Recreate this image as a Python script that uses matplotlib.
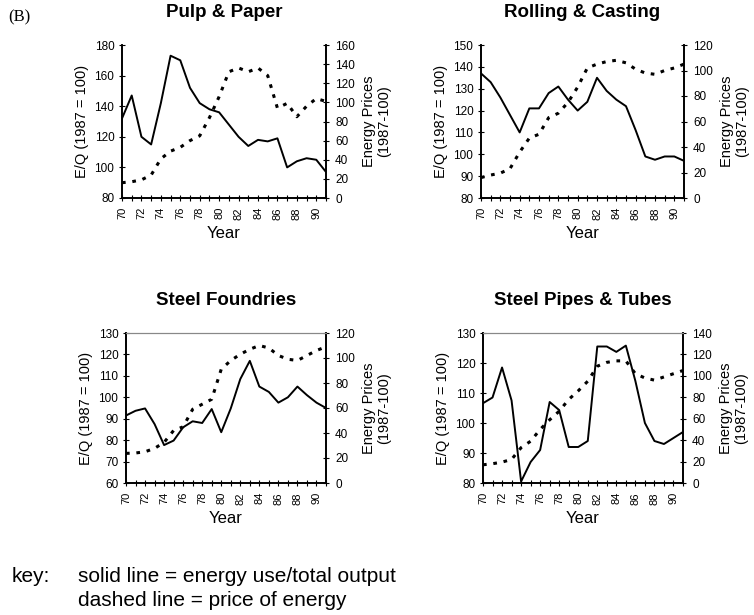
import numpy as np
import matplotlib.pyplot as plt

plt.rcParams['font.family'] = ['Liberation Sans', 'DejaVu Sans']

years = np.arange(70, 92)

# Pulp & Paper
pulp_eq = [132, 147, 120, 115, 142, 173, 170, 152, 142, 138, 136, 128,
           120, 114, 118, 117, 119, 100, 104, 106, 105, 97]
pulp_price = [16, 17, 19, 24, 41, 49, 53, 60, 65, 84, 106, 132,
              136, 132, 136, 128, 94, 99, 85, 96, 104, 101]

# Rolling & Casting
roll_eq = [137, 133, 126, 118, 110, 121, 121, 128, 131, 125, 120, 124,
           135, 129, 125, 122, 111, 99, 97.5, 99, 99, 97]
roll_price = [16, 18, 19.5, 23, 36, 47, 50, 63, 66.5, 75, 87, 102,
              105, 107, 108, 106, 101, 98, 97, 100, 102, 105]

# Steel Foundries
found_eq = [91.5, 93.7, 94.8, 87.5, 77.7, 79.8, 86, 88.8, 88, 94.5, 83.7, 94.8,
            108.5, 117, 105, 102.5, 97.5, 100, 105, 101, 97.5, 95]
found_price = [23.7, 24, 25, 27.7, 32.5, 42, 45, 59, 63, 67, 91, 98,
               103, 107, 110, 108, 102, 99, 98, 102, 106, 109]

# Steel Pipes & Tubes
pipe_eq = [106.6, 108.5, 118.5, 107.5, 80.5, 87, 91, 107, 104.3, 92, 92, 94,
           125.5, 125.5, 123.7, 125.8, 114, 100, 94, 93, 95, 97]
pipe_price = [17, 18, 19.5, 22, 33, 39, 50, 59, 67, 78, 86, 95,
              109, 112.6, 114, 114, 102, 98, 96, 99, 102, 105]

panels = [
    ('Pulp & Paper', pulp_eq, pulp_price, (80, 180, 20), (0, 160, 20),
     [122, 45, 326, 198], False),
    ('Rolling & Casting', roll_eq, roll_price, (80, 150, 10), (0, 120, 20),
     [481, 45, 684, 198], False),
    ('Steel Foundries', found_eq, found_price, (60, 130, 10), (0, 120, 20),
     [126, 333, 326, 483], True),
    ('Steel Pipes & Tubes', pipe_eq, pipe_price, (80, 130, 10), (0, 140, 20),
     [483, 333, 683, 483], True),
]

W, H = 754, 615
fig = plt.figure(figsize=(W / 100, H / 100), dpi=100)

for title, eq, price, ly, ry, box, top in panels:
    x0, y0, x1, y1 = box
    ax = fig.add_axes([x0 / W, 1 - y1 / H, (x1 - x0) / W, (y1 - y0) / H])
    ax2 = ax.twinx()
    ax.plot(years, eq, color='black', lw=1.4, zorder=3)
    ax2.plot(years, price, color='black', lw=2.2, ls=(0, (1.2, 2.2)))

    ax.set_xlim(70, 91)
    ax.set_ylim(ly[0], ly[1])
    ax.set_yticks(np.arange(ly[0], ly[1] + 1, ly[2]))
    ax2.set_ylim(ry[0], ry[1])
    ax2.set_yticks(np.arange(ry[0], ry[1] + 1, ry[2]))
    ax.set_xticks(years)
    ax.set_xticklabels([str(y) if y % 2 == 0 else '' for y in years],
                       rotation=90, fontsize=8)
    ax.tick_params(axis='x', direction='inout', length=5, width=0.8, pad=4)
    ax.tick_params(axis='y', direction='inout', length=5, width=0.8,
                   labelsize=8.5, pad=3)
    ax2.tick_params(axis='y', direction='inout', length=5, width=0.8,
                    labelsize=8.5, pad=4)

    ax.set_ylabel('E/Q (1987 = 100)', fontsize=10.5, labelpad=4)
    ax2.set_ylabel('Energy Prices\n(1987-100)', fontsize=10.5, labelpad=5,
                   linespacing=1.1)
    ax.set_xlabel('Year', fontsize=12, labelpad=5)
    ax.set_title(title, fontsize=13.5, fontweight='bold', pad=20)

    for a in (ax, ax2):
        a.spines['left'].set_linewidth(1.2)
        a.spines['right'].set_linewidth(1.2)
        a.spines['bottom'].set_linewidth(1.2)
        if top:
            a.spines['top'].set_color('#888888')
            a.spines['top'].set_linewidth(0.8)
        else:
            a.spines['top'].set_visible(False)

fig.text(8 / W, 1 - 17 / H, '(B)', family='Liberation Serif', fontsize=12,
         va='center', ha='left')
key_family = ['Liberation Sans Narrow', 'Liberation Sans']
fig.text(12 / W, 1 - 577 / H, 'key:', fontsize=15, va='center',
         family=key_family)
fig.text(78 / W, 1 - 577 / H, 'solid line = energy use/total output',
         fontsize=15, va='center', family=key_family)
fig.text(78 / W, 1 - 601 / H, 'dashed line = price of energy',
         fontsize=15, va='center', family=key_family)

fig.savefig('out.png', dpi=100)
